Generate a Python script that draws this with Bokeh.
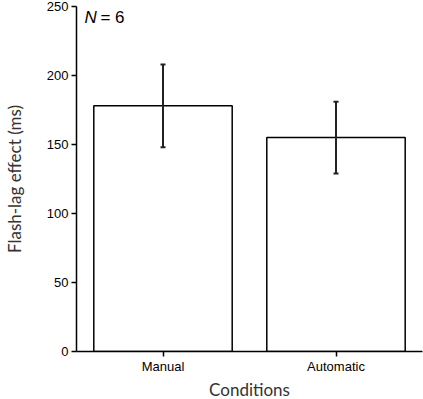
from bokeh.plotting import figure
from bokeh.models import FactorRange, Range1d, ColumnDataSource, Whisker, Label, TeeHead, Title
from bokeh.embed import file_html
from bokeh.resources import INLINE

conditions = ["Manual", "Automatic"]
means = [178, 155]
errors = [30, 26]
y_ticks = [0, 50, 100, 150, 200, 250]

upper = [m + e for m, e in zip(means, errors)]
lower = [m - e for m, e in zip(means, errors)]
src = ColumnDataSource(dict(cond=conditions, mean=means, upper=upper, lower=lower))

p = figure(width=423, height=399, output_backend="svg", toolbar_location=None,
           x_range=FactorRange(factors=conditions, range_padding=0),
           y_range=Range1d(0, 250),
           min_border_left=76, min_border_right=1, min_border_top=6, min_border_bottom=48)
p.outline_line_color = None
p.xgrid.grid_line_color = None
p.ygrid.grid_line_color = None

p.vbar(x="cond", top="mean", width=0.8, source=src, fill_color="white",
       line_color="black", line_width=1.5)

w = Whisker(base="cond", upper="upper", lower="lower", source=src,
            line_color="#222222", line_width=2, level="overlay")
w.upper_head = TeeHead(size=5, line_color="#222222", line_width=2)
w.lower_head = TeeHead(size=5, line_color="#222222", line_width=2)
p.add_layout(w)

p.yaxis.ticker = y_ticks
for ax in (p.xaxis[0], p.yaxis[0]):
    ax.axis_line_color = "black"
    ax.axis_line_width = 1.5
    ax.major_tick_line_color = "black"
    ax.major_tick_line_width = 1.5
    ax.major_tick_in = 0
    ax.major_tick_out = 5
    ax.minor_tick_line_color = None
    ax.major_label_text_font = "Liberation Sans"
    ax.major_label_text_font_size = "13px"
    ax.major_label_text_color = "black"
    ax.axis_label_text_font = "Lato"
    ax.axis_label_text_font_size = "17px"
    ax.axis_label_text_font_style = "normal"
    ax.axis_label_text_color = "#333333"

p.yaxis.axis_label = "Flash-lag effect (ms)"
p.yaxis.axis_label_standoff = 19
p.yaxis.major_label_standoff = 3
p.xaxis.major_label_standoff = 2

p.add_layout(Title(text="Conditions", align="center", text_font="Lato",
                   text_font_size="17px", text_font_style="normal",
                   text_color="#333333", standoff=0), "below")

p.add_layout(Label(x=0.046, y=242, text="N", text_font="Liberation Sans",
                   text_font_style="italic", text_font_size="17px",
                   text_baseline="middle", text_color="black"))
p.add_layout(Label(x=0.046, y=242, x_offset=16, text="= 6", text_font="Liberation Sans",
                   text_font_size="17px", text_baseline="middle", text_color="black"))

open("out.html", "w").write(file_html(p, INLINE))
